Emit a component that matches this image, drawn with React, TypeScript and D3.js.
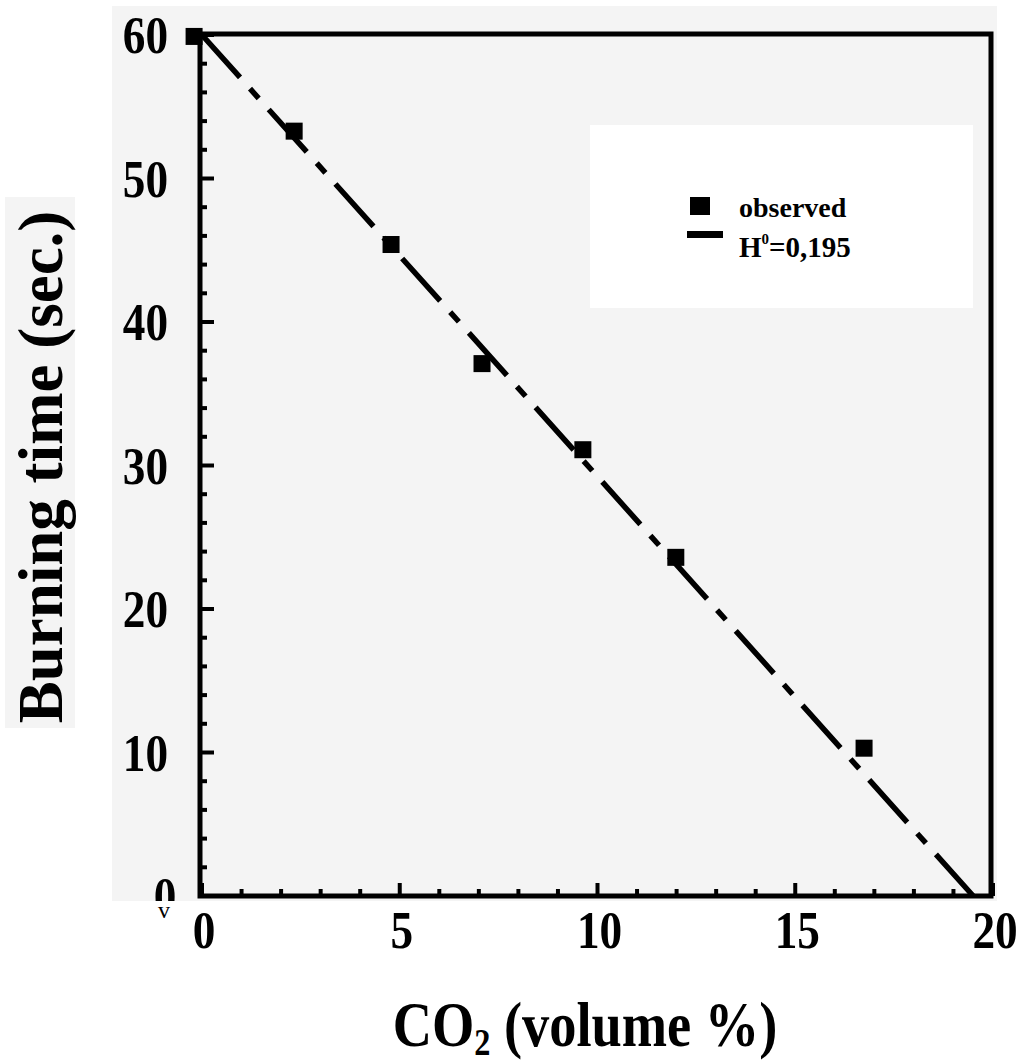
import React from "react";
import * as d3 from "d3";

const co2 = [-0.2, 2.33, 4.78, 7.08, 9.63, 11.98, 16.74];
const burnTime = [59.9, 53.3, 45.4, 37.1, 31.1, 23.6, 10.3];
const fitX = [0, 19.5];
const fitY = [60, 0];
const xMajor = [0, 5, 10, 15, 20];
const yMajor = [10, 20, 30, 40, 50, 60];
const xTitle = "CO";
const xTitleSub = "2";
const xTitleRest = " (volume %)";
const yTitle = "Burning time (sec.)";
const legendObserved = "observed";
const legendFit = ["H", "0", "=0,195"];

const W = 1028;
const H = 1063;
const FONT = "'Liberation Serif', 'Times New Roman', serif";

export default function App() {
  const x = d3.scaleLinear().domain([0, 20]).range([202, 993]);
  const y = d3.scaleLinear().domain([0, 60]).range([896, 35]);
  const left = 200, right = 991, top = 34, bottom = 896;

  const xMinor = d3.range(1, 20).filter((v) => v % 5 !== 0);
  const yMinor = d3.range(2, 60, 2).filter((v) => v % 10 !== 0);

  const pts = co2.map((c, i) => ({ x: c, y: burnTime[i] }));
  const fit = fitX.map((c, i) => ({ x: c, y: fitY[i] }));
  const line = d3
    .line<{ x: number; y: number }>()
    .x((d) => x(d.x))
    .y((d) => y(d.y));

  const sq = 17;

  return (
    <svg
      width={W}
      height={H}
      style={{ position: "absolute", left: 0, top: 0, background: "#fff" }}
      fontFamily={FONT}
    >
      <defs>
        <clipPath id="grayclip">
          <rect x={112} y={6} width={885} height={895} />
        </clipPath>
      </defs>
      {/* scanned gray backgrounds */}
      <rect x={112} y={6} width={885} height={895} fill="#f4f4f4" />
      <rect x={5} y={197} width={70} height={531} fill="#f4f4f4" />
      {/* legend white box */}
      <rect x={590} y={125} width={383} height={183} fill="#fff" />

      {/* frame */}
      <rect
        x={left}
        y={top}
        width={right - left}
        height={bottom - top}
        fill="none"
        stroke="#000"
        strokeWidth={5}
      />

      {/* x ticks */}
      {xMajor.map((v) => (
        <line key={"xM" + v} x1={x(v)} x2={x(v)} y1={bottom} y2={bottom - 13} stroke="#000" strokeWidth={4} />
      ))}
      {xMinor.map((v) => (
        <line key={"xm" + v} x1={x(v)} x2={x(v)} y1={bottom} y2={bottom - 7} stroke="#000" strokeWidth={4} />
      ))}
      {/* y ticks */}
      {yMajor.map((v) => (
        <line key={"yM" + v} x1={left} x2={left + 14} y1={y(v)} y2={y(v)} stroke="#000" strokeWidth={4} />
      ))}
      {yMinor.map((v) => (
        <line key={"ym" + v} x1={left} x2={left + 7} y1={y(v)} y2={y(v)} stroke="#000" strokeWidth={4} />
      ))}

      {/* x tick labels */}
      {xMajor.map((v) => (
        <text
          key={"xl" + v}
          transform={`translate(${x(v) + 2},948) scale(0.87,1)`}
          textAnchor="middle"
          fontSize={52}
          fontWeight="bold"
          fill="#000"
        >
          {v}
        </text>
      ))}
      {/* y tick labels */}
      {yMajor.map((v) => (
        <text
          key={"yl" + v}
          transform={`translate(168,${y(v) + 18}) scale(0.87,1)`}
          textAnchor="end"
          fontSize={52}
          fontWeight="bold"
          fill="#000"
        >
          {v}
        </text>
      ))}
      <g clipPath="url(#grayclip)">
        <text
          transform={`translate(165,${y(0) + 18}) scale(0.87,1)`}
          textAnchor="middle"
          fontSize={52}
          fontWeight="bold"
          fill="#000"
        >
          0
        </text>
      </g>
      <text x={164} y={918} textAnchor="middle" fontSize={24} fill="#000">
        v
      </text>

      {/* fit line */}
      <path
        d={line(fit) || ""}
        fill="none"
        stroke="#000"
        strokeWidth={5.5}
        strokeDasharray="57,15,13,15"
      />

      {/* observed points */}
      {pts.map((p, i) => (
        <rect
          key={"p" + i}
          x={x(p.x) - sq / 2}
          y={y(p.y) - sq / 2}
          width={sq}
          height={sq}
          fill="#000"
        />
      ))}

      {/* legend */}
      <rect x={690} y={197} width={20} height={18} fill="#000" />
      <line x1={687} x2={723} y1={234.5} y2={234.5} stroke="#000" strokeWidth={7} />
      <text x={739} y={217} fontSize={28} fontWeight="bold" fill="#000">
        {legendObserved}
      </text>
      <text x={739} y={257} fontSize={29} fontWeight="bold" fill="#000">
        {legendFit[0]}
        <tspan fontSize={15} dy={-13}>
          {legendFit[1]}
        </tspan>
        <tspan dy={13}>{legendFit[2]}</tspan>
      </text>

      {/* axis titles */}
      <text
        transform="translate(585,1046) scale(0.85,1)"
        textAnchor="middle"
        fontSize={64}
        fontWeight="bold"
        fill="#000"
      >
        {xTitle}
        <tspan fontSize={38} dy={9}>
          {xTitleSub}
        </tspan>
        <tspan dy={-9}>{xTitleRest}</tspan>
      </text>
      <text
        transform="translate(62,467) rotate(-90)"
        textAnchor="middle"
        fontSize={63}
        fontWeight="bold"
        fill="#000"
      >
        {yTitle}
      </text>
    </svg>
  );
}
